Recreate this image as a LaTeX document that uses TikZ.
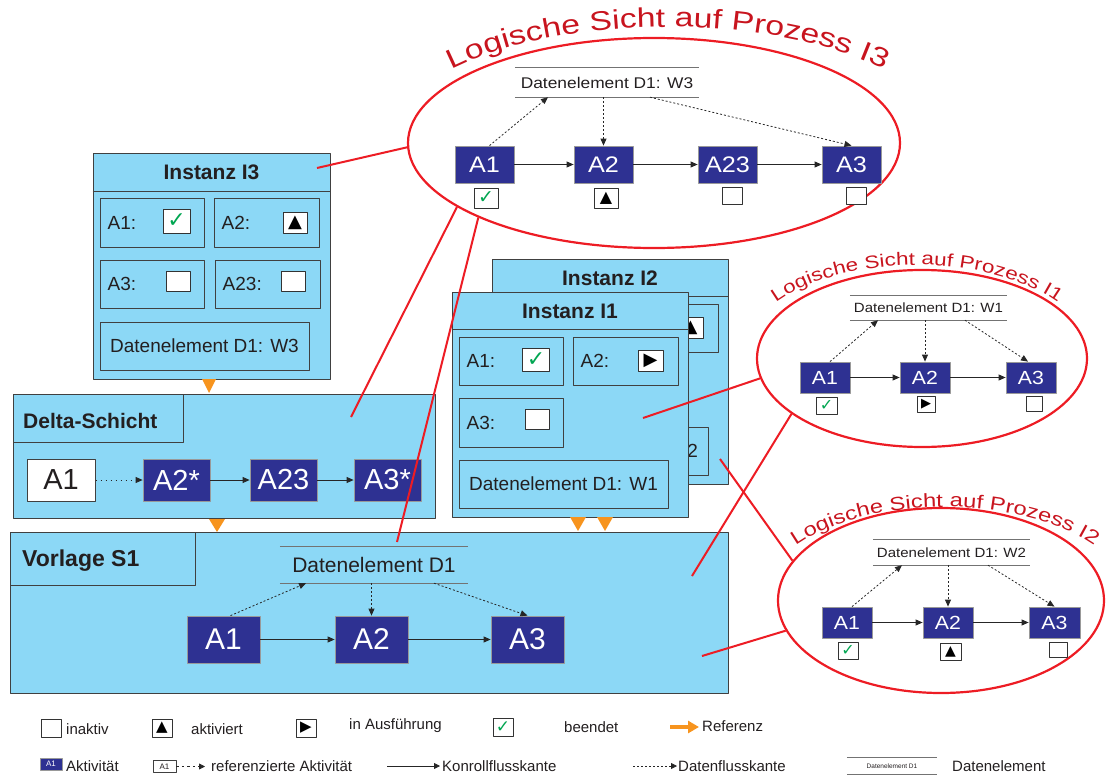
\documentclass[tikz,border=0pt]{standalone}
\usepackage{fontspec}
\setmainfont{Liberation Sans}
\newfontfamily\widefont[FakeStretch=1.25]{Liberation Sans}
\newfontfamily\actfont[FakeStretch=1.12]{Liberation Sans}
\newfontfamily\symfont{DejaVu Sans}
\usetikzlibrary{arrows.meta,shapes.geometric,decorations.text,calc}
\newcommand\fsz[1]{\fontsize{#1}{#1}\selectfont}

\definecolor{paneblue}{RGB}{140,216,246}
\definecolor{actblue}{RGB}{46,49,146}
\definecolor{refred}{RGB}{237,28,36}
\definecolor{titlered}{RGB}{200,20,30}
\definecolor{reforange}{RGB}{247,148,30}
\definecolor{okgreen}{RGB}{0,166,81}
\definecolor{framegray}{RGB}{64,64,64}
\definecolor{inkgray}{RGB}{35,31,32}

\tikzset{
  sz/.style 2 args={minimum width=#1pt, minimum height=#2pt},
  pane/.style={fill=paneblue, draw=framegray, line width=1pt, inner sep=0pt},
  cell/.style={draw=framegray, line width=1pt, inner sep=0pt},
  ptitle/.style={font=\bfseries\fsz{#1}, text=inkgray, inner sep=0pt},
  lbl/.style={font=\fsz{19}, text=inkgray, inner sep=0pt, anchor=west},
  act/.style={fill=actblue, draw=black!40, line width=0.8pt, text=white, inner sep=0pt},
  refact/.style={fill=white, draw=framegray, line width=1pt, text=inkgray, inner sep=0pt},
  st/.style={fill=white, draw=black!80, line width=0.7pt, inner sep=0pt},
  ok/.style={font=\symfont\fsz{#1}, text=okgreen},
  glyph/.style={font=\symfont\fsz{#1}, text=black},
  datael/.style={inner sep=0pt, text=inkgray},
  dataline/.style={draw=black!55, line width=1.1pt},
  flow/.style={draw=black!85, line width=0.8pt, -{Triangle[length=7pt,width=6pt]}},
  dflow/.style={flow, dash pattern=on 2pt off 2pt},
  view/.style={ellipse, draw=refred, line width=2.2pt, inner sep=0pt},
  link/.style={draw=refred, line width=2pt},
  refarrow/.style={draw=reforange, line width=3.5pt, -{Triangle[length=11pt,width=12pt]}},
  refmark/.style={fill=reforange},
  legtext/.style={font=\fsz{15}, text=inkgray, inner sep=0pt, anchor=west},
}

\begin{document}
\begin{tikzpicture}[x=1pt, y=-1pt, line join=round]
\useasboundingbox (0,0) rectangle (1106,776);

% ---------------- Vorlage S1 ----------------
\node[pane, sz={718}{161}] (vor) at (369,612.5) {};
\node[pane, sz={185}{53}] (vorhead) at (102.5,558.5) {};
\node[ptitle=23, anchor=west] (vortitle) at (22,561) {Vorlage S1};
\node[datael, sz={188}{36}, font=\fsz{21}] (vd) at (374,565) {Datenelement D1};
\draw[dataline] (vd.north west) -- (vd.north east) (vd.south west) -- (vd.south east);
\node[act, sz={73}{47}, font=\fsz{30}] (va1) at (223.5,639.5) {A1};
\node[act, sz={73}{47}, font=\fsz{30}] (va2) at (371.5,639.5) {A2};
\node[act, sz={73}{47}, font=\fsz{30}] (va3) at (527.5,639.5) {A3};
\draw[flow] (va1) -- (va2);
\draw[flow] (va2) -- (va3);
\draw[dflow] ([xshift=7pt]va1.north) -- ([xshift=-68pt]vd.south);
\draw[dflow] (vd.south -| va2) -- (va2.north);
\draw[dflow] ([xshift=60pt]vd.south) -- (va3.north);

% ---------------- Delta-Schicht ----------------
\node[pane, sz={422}{124}] (delta) at (224,456) {};
\node[pane, sz={170}{48}] (deltahead) at (98,418) {};
\node[ptitle=21, anchor=west] (deltatitle) at (23,421) {Delta-Schicht};
\node[refact, sz={68}{42}, font=\fsz{29}] (da1) at (61,480) {A1};
\node[act, sz={67}{42}, font=\fsz{29}] (da2) at (176.5,480) {A2*};
\node[act, sz={67}{42}, font=\fsz{29}] (da23) at (283.5,480) {A23};
\node[act, sz={67}{42}, font=\fsz{29}] (da3) at (387.5,480) {A3*};
\draw[flow, dash pattern=on 1.5pt off 3.5pt] (da1) -- (da2);
\draw[flow] (da2) -- (da23);
\draw[flow] (da23) -- (da3);

% ---------------- Instanz I3 ----------------
\node[pane, sz={237}{226}] (inst3) at (211.5,266) {};
\draw[framegray, line width=1pt] (inst3.west |- 0,191) -- (inst3.east |- 0,191);
\node[ptitle=21] (inst3t) at (211.5,172) {Instanz I3};
\node[cell, sz={104}{49}] (i3c1) at (152,222.5) {};
\node[lbl] (i3l1) at ([xshift=8pt]i3c1.west) {A1:};
\node[st, sz={27}{24}, ok=22] (i3s1) at (176.5,221) {✓};
\node[cell, sz={105}{49}] (i3c2) at (266.5,222.5) {};
\node[lbl] (i3l2) at ([xshift=8pt]i3c2.west) {A2:};
\node[st, sz={24}{21}, glyph=18] (i3s2) at (295,222.5) {▲};
\node[cell, sz={104}{48}] (i3c3) at (152,284) {};
\node[lbl] (i3l3) at ([xshift=8pt]i3c3.west) {A3:};
\node[st, sz={24}{20}] (i3s3) at (178,281.5) {};
\node[cell, sz={105}{48}] (i3c4) at (267.5,284) {};
\node[lbl] (i3l4) at ([xshift=8pt]i3c4.west) {A23:};
\node[st, sz={24}{20}] (i3s4) at (293,281.5) {};
\node[cell, sz={209}{48}, font=\fsz{19}, text=inkgray] (i3d) at (204.5,346) {Datenelement D1: W3};

% ---------------- Instanz I2 (behind I1) ----------------
\node[pane, sz={236}{225}] (inst2) at (610,371.5) {};
\draw[framegray, line width=1pt] (inst2.west |- 0,296) -- (inst2.east |- 0,296);
\node[ptitle=21] (inst2t) at (610,278) {Instanz I2};
\node[cell, sz={104}{48}] (i2c1) at (551,328) {};
\node[lbl] (i2l1) at ([xshift=8pt]i2c1.west) {A1:};
\node[st, sz={27}{23}, ok=22] (i2s1) at (576,326.5) {✓};
\node[cell, sz={105}{48}] (i2c2) at (665.5,328) {};
\node[lbl] (i2l2) at ([xshift=8pt]i2c2.west) {A2:};
\node[st, sz={25}{21}, glyph=18] (i2s2) at (690.5,327.5) {▲};
\node[cell, sz={104}{49}] (i2c3) at (551,389.5) {};
\node[lbl] (i2l3) at ([xshift=8pt]i2c3.west) {A3:};
\node[st, sz={24}{20}] (i2s3) at (577,386) {};
\node[cell, sz={209}{48}, font=\fsz{19}, text=inkgray] (i2d) at (603.5,451) {Datenelement D1: W2};

% ---------------- Instanz I1 ----------------
\node[pane, sz={236}{225}] (inst1) at (570,404.5) {};
\draw[framegray, line width=1pt] (inst1.west |- 0,329) -- (inst1.east |- 0,329);
\node[ptitle=21] (inst1t) at (570,311) {Instanz I1};
\node[cell, sz={104}{48}] (i1c1) at (511,361) {};
\node[lbl] (i1l1) at ([xshift=8pt]i1c1.west) {A1:};
\node[st, sz={27}{23}, ok=22] (i1s1) at (536,359.5) {✓};
\node[cell, sz={105}{48}] (i1c2) at (625.5,361) {};
\node[lbl] (i1l2) at ([xshift=8pt]i1c2.west) {A2:};
\node[st, sz={25}{21}, glyph=18] (i1s2) at (650.5,360.5) {▶};
\node[cell, sz={104}{49}] (i1c3) at (511,422.5) {};
\node[lbl] (i1l3) at ([xshift=8pt]i1c3.west) {A3:};
\node[st, sz={24}{20}] (i1s3) at (537,419) {};
\node[cell, sz={209}{48}, font=\fsz{19}, text=inkgray] (i1d) at (563.5,484) {Datenelement D1: W1};

% ---------------- reference markers ----------------
\fill[refmark] (202,379) -- (216,379) -- (209,393) -- cycle;
\fill[refmark] (209,519) -- (225,519) -- (217,532) -- cycle;
\fill[refmark] (570,517) -- (586,517) -- (578,531) -- cycle;
\fill[refmark] (597,517) -- (613,517) -- (605,531) -- cycle;

% ---------------- logical view of I3 ----------------
\node[view, sz={492}{210}] (v3) at (654,143) {};
\path[decorate, decoration={text along path, text align=center,
  text={|\widefont\fsz{27}\color{titlered}|Logische Sicht auf Prozess I3}}]
  (668,143) ++(-150:280 and 116) arc[start angle=-150, end angle=-30, x radius=280, y radius=116];
\node[datael, sz={184}{29}, font=\actfont\fsz{15.5}] (v3d) at (607,82.5) {Datenelement D1: W3};
\draw[dataline] (v3d.north west) -- (v3d.north east) (v3d.south west) -- (v3d.south east);
\node[act, sz={59}{37}, font=\actfont\fsz{22.5}] (v3a1) at (484.5,164.5) {A1};
\node[act, sz={59}{37}, font=\actfont\fsz{22.5}] (v3a2) at (603.5,164.5) {A2};
\node[act, sz={59}{37}, font=\actfont\fsz{22.5}] (v3a23) at (727.5,164.5) {A23};
\node[act, sz={59}{37}, font=\actfont\fsz{22.5}] (v3a3) at (851.5,164.5) {A3};
\node[st, sz={24}{20}, ok=19] (v3s1) at (486,198) {✓};
\node[st, sz={24}{20}, glyph=16] (v3s2) at (606,198) {▲};
\node[st, sz={20}{17}] (v3s23) at (732,195.5) {};
\node[st, sz={20}{17}] (v3s3) at (856,195.5) {};
\draw[flow] (v3a1) -- (v3a2);
\draw[flow] (v3a2) -- (v3a23);
\draw[flow] (v3a23) -- (v3a3);
\draw[dflow] ([xshift=5pt]v3a1.north) -- ([xshift=-59pt]v3d.south);
\draw[dflow] (v3d.south -| v3a2) -- (v3a2.north);
\draw[dflow] ([xshift=43pt]v3d.south) -- (v3a3.north);

% ---------------- logical view of I1 ----------------
\node[view, sz={330}{177}] (v1) at (922,358.5) {};
\path[decorate, decoration={text along path, text align=center,
  text={|\widefont\fsz{18}\color{titlered}|Logische Sicht auf Prozess I1}}]
  (917,358) ++(-155:175 and 93) arc[start angle=-155, end angle=-25, x radius=175, y radius=93];
\node[datael, sz={157}{24}, font=\actfont\fsz{13.4}] (v1d) at (928.5,308) {Datenelement D1: W1};
\draw[dataline] (v1d.north west) -- (v1d.north east) (v1d.south west) -- (v1d.south east);
\node[act, sz={50}{31}, font=\actfont\fsz{19}] (v1a1) at (825,377.5) {A1};
\node[act, sz={50}{31}, font=\actfont\fsz{19}] (v1a2) at (925,377.5) {A2};
\node[act, sz={50}{31}, font=\actfont\fsz{19}] (v1a3) at (1031,377.5) {A3};
\node[st, sz={21}{17}, ok=16] (v1s1) at (826.5,405.5) {✓};
\node[st, sz={18}{16}, glyph=13] (v1s2) at (926,404) {▶};
\node[st, sz={16}{15}] (v1s3) at (1034,403.5) {};
\draw[flow] (v1a1) -- (v1a2);
\draw[flow] (v1a2) -- (v1a3);
\draw[dflow] ([xshift=5pt]v1a1.north) -- ([xshift=-50.5pt]v1d.south);
\draw[dflow] (v1d.south -| v1a2) -- (v1a2.north);
\draw[dflow] ([xshift=36.5pt]v1d.south) -- ([xshift=-3pt]v1a3.north);

% ---------------- logical view of I2 ----------------
\node[view, sz={326}{185}] (v2) at (941,600.5) {};
\path[decorate, decoration={text along path, text align=center,
  text={|\widefont\fsz{19}\color{titlered}|Logische Sicht auf Prozess I2}}]
  (945,600) ++(-155:184 and 93) arc[start angle=-155, end angle=-25, x radius=184, y radius=93];
\node[datael, sz={157}{25}, font=\actfont\fsz{13.4}] (v2d) at (951.5,552.5) {Datenelement D1: W2};
\draw[dataline] (v2d.north west) -- (v2d.north east) (v2d.south west) -- (v2d.south east);
\node[act, sz={50}{31}, font=\actfont\fsz{19}] (v2a1) at (847,622.5) {A1};
\node[act, sz={50}{31}, font=\actfont\fsz{19}] (v2a2) at (948,622.5) {A2};
\node[act, sz={51}{31}, font=\actfont\fsz{19}] (v2a3) at (1054.5,622.5) {A3};
\node[st, sz={20}{17}, ok=16] (v2s1) at (848,650.5) {✓};
\node[st, sz={21}{17}, glyph=14] (v2s2) at (950.5,651.5) {▲};
\node[st, sz={18}{15}] (v2s3) at (1058,649.5) {};
\draw[flow] (v2a1) -- (v2a2);
\draw[flow] (v2a2) -- (v2a3);
\draw[dflow] ([xshift=5pt]v2a1.north) -- ([xshift=-49.5pt]v2d.south);
\draw[dflow] (v2d.south -| v2a2) -- (v2a2.north);
\draw[dflow] ([xshift=36.5pt]v2d.south) -- (v2a3.north);

% ---------------- links between views and layers ----------------
\coordinate (i3pin) at (317,168);
\coordinate (deltapin) at (351,417);
\coordinate (vdpin) at (397,542);
\coordinate (i1pin) at (643,418);
\coordinate (vorpin1) at (692,576);
\coordinate (i2pin) at (720,459);
\coordinate (vorpin2) at (702,656);
\draw[link] (i3pin) -- (v3.181.6);
\draw[link] (v3.198.3) -- (deltapin);
\draw[link] (v3.203.3) -- (vdpin);
\draw[link] (i1pin) -- (v1.187.5);
\draw[link] (v1.203.2) -- (vorpin1);
\draw[link] (i2pin) -- (v2.165.6);
\draw[link] (vorpin2) -- (v2.191.9);

% ---------------- legend ----------------
\node[st, sz={20}{18}] (lgs1) at (51,728) {};
\node[legtext] (lgt1) at (66,729) {inaktiv};
\node[st, sz={20}{18}, glyph=15] (lgs2) at (162,728) {▲};
\node[legtext] (lgt2) at (191,729) {aktiviert};
\node[st, sz={20}{18}, glyph=15] (lgs3) at (306,728) {▶};
\node[legtext] (lgt3) at (349,726) {in Ausführung};
\node[st, sz={20}{18}, ok=17] (lgs4) at (503,727) {✓};
\node[legtext] (lgt4) at (564,727) {beendet};
\coordinate (lgr0) at (670,727);
\coordinate (lgr1) at (699,727);
\draw[refarrow] (lgr0) -- (lgr1);
\node[legtext] (lgt5) at (702,726) {Referenz};

\node[act, sz={22}{12}, font=\fsz{8}] (lga1) at (51,764) {A1};
\node[legtext] (lgt6) at (66,766) {Aktivität};
\node[refact, line width=0.7pt, sz={23}{12}, font=\fsz{8}] (lga2) at (164.5,766.5) {A1};
\coordinate (lgd0) at (205,766.5);
\draw[flow, dash pattern=on 2.5pt off 3pt, -{Triangle[length=6pt,width=6pt]}] (lga2) -- (lgd0);
\node[legtext] (lgt7) at (211,766) {referenzierte Aktivität};
\coordinate (lgk0) at (387,766);
\coordinate (lgk1) at (440,766);
\draw[flow, -{Triangle[length=6pt,width=6pt]}] (lgk0) -- (lgk1);
\node[legtext] (lgt8) at (442,766) {Konrollflusskante};
\coordinate (lgf0) at (633,766);
\coordinate (lgf1) at (677,766);
\draw[dflow, -{Triangle[length=6pt,width=6pt]}] (lgf0) -- (lgf1);
\node[legtext] (lgt9) at (678,766) {Datenflusskante};
\node[datael, sz={90}{16}, font=\fsz{6.5}] (lgde) at (892,766) {Datenelement D1};
\draw[dataline, line width=0.8pt] (lgde.north west) -- (lgde.north east) (lgde.south west) -- (lgde.south east);
\node[legtext] (lgt10) at (952,766) {Datenelement};
\end{tikzpicture}
\end{document}
